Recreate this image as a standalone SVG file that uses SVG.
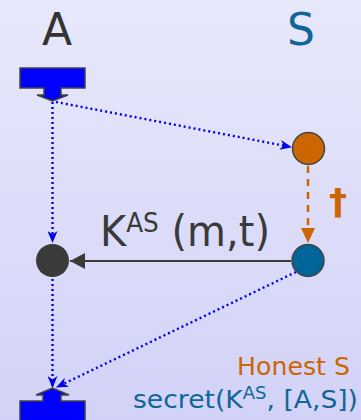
<svg xmlns="http://www.w3.org/2000/svg" width="361" height="420" viewBox="0 0 361 420">
<defs>
<linearGradient id="bg" x1="0" y1="0" x2="0" y2="1">
<stop offset="0" stop-color="#e8e8fb"/>
<stop offset="1" stop-color="#d2d2f8"/>
</linearGradient>
<marker id="mb" markerWidth="12" markerHeight="10" refX="11" refY="5" orient="auto" markerUnits="userSpaceOnUse">
<path d="M0,0 L12,5 L0,10 L3.5,5 z" fill="#0000ee"/>
</marker>
<marker id="mo" markerWidth="16" markerHeight="14" refX="15" refY="7" orient="auto" markerUnits="userSpaceOnUse">
<path d="M0,0 L15,7 L0,14 z" fill="#cc6600"/>
</marker>
<marker id="mk" markerWidth="16" markerHeight="16" refX="15" refY="8" orient="auto" markerUnits="userSpaceOnUse">
<path d="M0,0 L15,8 L0,16 z" fill="#3a3a3a"/>
</marker>
</defs>
<style>
.lbl{font-family:"Comic Sans MS","DejaVu Sans",sans-serif;}
.dot{fill:none;stroke:#0000ee;stroke-width:2.4;stroke-dasharray:2 3;}
.pr{fill:#0000ff;stroke:#444;stroke-width:1.5;}
</style>
<rect width="361" height="420" fill="url(#bg)"/>
<g id="connectors">
<line class="dot" x1="52.5" y1="102" x2="52.5" y2="242" marker-end="url(#mb)"/>
<line class="dot" x1="52.5" y1="279" x2="52.5" y2="387" marker-end="url(#mb)"/>
<line class="dot" x1="56" y1="102" x2="291" y2="147" marker-end="url(#mb)"/>
<line class="dot" x1="296" y1="272" x2="57" y2="387" marker-end="url(#mb)"/>
<line x1="308" y1="166" x2="308" y2="243" fill="none" stroke="#cc6600" stroke-width="2.5" stroke-dasharray="7 6" marker-end="url(#mo)"/>
<line x1="291" y1="261" x2="70" y2="261" stroke="#3a3a3a" stroke-width="2" marker-end="url(#mk)"/>
</g>
<g id="A-label"><text class="lbl" x="57" y="45" font-size="44" fill="#333" text-anchor="middle">A</text></g>
<g id="S-label"><text class="lbl" x="301" y="45" font-size="44" fill="#116699" text-anchor="middle">S</text></g>
<g id="A-top">
<path class="pr" d="M20,68 H85 V88 H61 V95 H68 L52.5,101 L37,95 H44 V88 H20 Z"/>
</g>
<g id="A-bottom">
<path class="pr" d="M20,422 V401 H43 V395 H36 L52.5,388 L69,395 H61 V401 H85 V422 Z"/>
</g>
<g id="S-orange"><circle cx="308.5" cy="148.5" r="16" fill="#cc6600" stroke="#444" stroke-width="1.5"/></g>
<g id="S-blue"><circle cx="308" cy="260.5" r="16" fill="#006699" stroke="#444" stroke-width="1.5"/></g>
<g id="A-black"><circle cx="52.5" cy="260.5" r="16.5" fill="#3a3a3a"/></g>
<g id="dagger"><text class="lbl" x="338" y="214" font-size="36" font-weight="bold" fill="#cc6600" text-anchor="middle">†</text></g>
<g id="msg-label"><text class="lbl" x="100" y="246" font-size="42" fill="#3a3a3a" textLength="170" lengthAdjust="spacingAndGlyphs">K<tspan font-size="26" dy="-14">AS</tspan><tspan dy="14"> (m,t)</tspan></text></g>
<g id="honest"><text class="lbl" x="237" y="375" font-size="25" fill="#cc6600" textLength="113" lengthAdjust="spacingAndGlyphs">Honest S</text></g>
<g id="secret"><text class="lbl" x="133" y="408" font-size="25" fill="#116699" textLength="225" lengthAdjust="spacingAndGlyphs">secret(K<tspan font-size="17" dy="-9">AS</tspan><tspan dy="9">, [A,S])</tspan></text></g>
</svg>
